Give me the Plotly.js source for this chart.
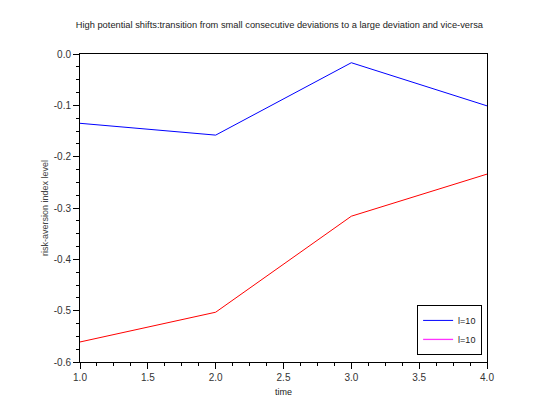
<!DOCTYPE html>
<html><head><meta charset="utf-8">
<script src="https://cdn.plot.ly/plotly-3.0.1.min.js"></script>
<style>body{margin:0;background:#fff}#c{width:551px;height:406px}</style>
</head><body><div id="c"></div>
<script>
const time = [1, 2, 3, 4];
const seriesBlue = [-0.135, -0.158, -0.017, -0.101];
const seriesRed = [-0.561, -0.503, -0.316, -0.234];
const legendNames = ['l=10', 'l=10'];
const xTickVals = [1.0, 1.5, 2.0, 2.5, 3.0, 3.5, 4.0];
const xTickText = ['1.0', '1.5', '2.0', '2.5', '3.0', '3.5', '4.0'];
const yTickVals = [0, -0.1, -0.2, -0.3, -0.4, -0.5, -0.6];
const yTickText = ['0.0', '-0.1', '-0.2', '-0.3', '-0.4', '-0.5', '-0.6'];

const font = 'Liberation Sans, Arial, sans-serif';
const traces = [
  {x: time, y: seriesBlue, mode: 'lines', name: legendNames[0], legendgroup: 'a', line: {color: '#0000ff', width: 1}},
  {x: time, y: seriesRed, mode: 'lines', name: legendNames[1], legendgroup: 'b', line: {color: '#ff0000', width: 1}, showlegend: false},
  {x: [null], y: [null], mode: 'lines', name: legendNames[1], legendgroup: 'c', line: {color: '#ff33ff', width: 1.3}}
];
const axisCommon = {
  showline: true, linecolor: '#000', linewidth: 1, mirror: true,
  ticks: 'outside', ticklen: 6, tickcolor: '#000', tickwidth: 1,
  showgrid: false, zeroline: false,
  tickfont: {family: font, size: 10, color: '#333'},
  tickmode: 'array'
};
const layout = {
  width: 551, height: 406,
  paper_bgcolor: '#fff', plot_bgcolor: '#fff',
  margin: {l: 80, r: 64, t: 54, b: 44},
  title: {text: 'High potential shifts:transition from small consecutive deviations to a large deviation and vice-versa',
          font: {family: font, size: 9.3, color: '#222'}, x: 0.507, xanchor: 'center', y: 0.938, yanchor: 'middle'},
  xaxis: Object.assign({}, axisCommon, {
    range: [1, 4], tickvals: xTickVals, ticktext: xTickText,
    minor: {ticks: 'outside', ticklen: 3, dtick: 0.125, tick0: 1, tickcolor: '#000', showgrid: false},
    title: {text: 'time', font: {family: font, size: 9, color: '#222'}, standoff: 6}
  }),
  yaxis: Object.assign({}, axisCommon, {
    range: [-0.6, 0], tickvals: yTickVals, ticktext: yTickText,
    minor: {ticks: 'outside', ticklen: 3, dtick: 0.025, tick0: 0, tickcolor: '#000', showgrid: false},
    title: {text: 'risk-aversion index level', font: {family: font, size: 9, color: '#444'}, standoff: 3}
  }),
  legend: {x: 0.988, xanchor: 'right', y: 0.023, yanchor: 'bottom',
           bordercolor: '#000', borderwidth: 1, bgcolor: '#fff', tracegroupgap: 0,
           font: {family: font, size: 9, color: '#222'}},
  showlegend: true
};
Plotly.newPlot('c', traces, layout, {displayModeBar: false, staticPlot: true});
</script></body></html>
